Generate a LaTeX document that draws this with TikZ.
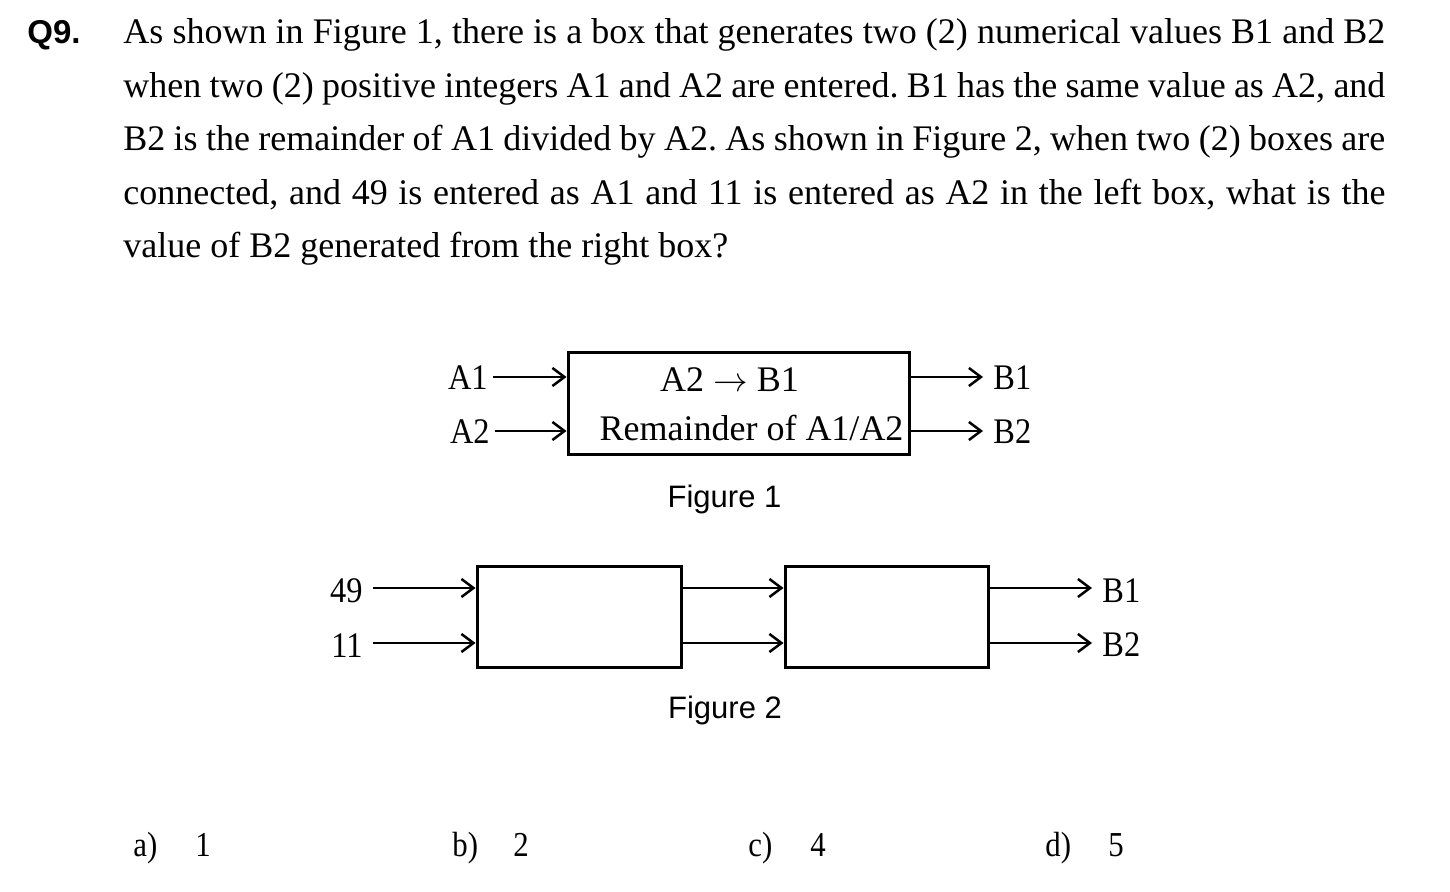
\documentclass[tikz,border=0pt]{standalone}
\usepackage{fontspec}
\setmainfont{Liberation Serif}
\setsansfont{Liberation Sans}
\newfontfamily\condensed[FakeStretch=0.88]{Liberation Serif}
\newfontfamily\labfont[FakeStretch=0.9]{Liberation Serif}
\usetikzlibrary{arrows.meta}
\tikzset{
  body/.style={anchor=base west, inner sep=0pt, font=\fontsize{18}{18}\selectfont},
  lab/.style={inner ysep=0pt, font=\labfont\fontsize{18}{18}\selectfont},
  boxtext/.style={anchor=base, inner sep=0pt, font=\fontsize{18}{18}\selectfont},
  figcap/.style={anchor=base, inner sep=0pt, font=\sffamily\fontsize{15.5}{15.5}\selectfont},
  opt/.style={anchor=base west, inner sep=0pt, font=\condensed\fontsize{17.5}{17.5}\selectfont},
  blk/.style={draw, line width=1.5pt, inner sep=0pt},
  arr/.style={line width=1.25pt, -{Straight Barb[length=6pt,width=9pt,line width=1.25pt]}},
}
\frenchspacing
\begin{document}
\begin{tikzpicture}[x=0.5pt,y=-0.5pt]
\useasboundingbox (0,0) rectangle (1450,892);
% question text
\node[body, font=\sffamily\bfseries\fontsize{16.5}{16.5}\selectfont] (q) at (27,44) {Q9.};
\node[body] (l1) at (123,44) {\makebox[631pt][s]{As shown in Figure 1, there is a box that generates two (2) numerical values B1 and B2}};
\node[body] (l2) at (123,97.5) {\makebox[631pt][s]{when two (2) positive integers A1 and A2 are entered. B1 has the same value as A2, and}};
\node[body] (l3) at (123,151) {\makebox[631pt][s]{B2 is the remainder of A1 divided by A2. As shown in Figure 2, when two (2) boxes are}};
\node[body] (l4) at (123,204.5) {\makebox[631pt][s]{connected, and 49 is entered as A1 and 11 is entered as A2 in the left box, what is the}};
\node[body] (l5) at (123,258) {value of B2 generated from the right box?};

% Figure 1
\node[blk, minimum width=170.5pt, minimum height=51pt] (f1) at (738.5,404) {};
\node[boxtext] (t1) at (729.5,392) {A2 $\rightarrow$ B1};
\node[boxtext] (t2) at (751.5,441) {Remainder of A1/A2};
\coordinate (r1) at (0,377);
\coordinate (r2) at (0,431);
\node[lab, anchor=base east, inner xsep=2.5pt] (a1) at (493,390) {A1};
\node[lab, anchor=base east, inner xsep=2.5pt] (a2) at (495,444) {A2};
\node[lab, anchor=base west, inner xsep=5pt] (b1) at (983,390) {B1};
\node[lab, anchor=base west, inner xsep=5pt] (b2) at (983,444) {B2};
\draw[arr] (a1.east |- r1) -- (f1.west |- r1);
\draw[arr] (a2.east |- r2) -- (f1.west |- r2);
\draw[arr] (f1.east |- r1) -- (b1.west |- r1);
\draw[arr] (f1.east |- r2) -- (b2.west |- r2);
\node[figcap] (c1) at (724.5,508) {Figure 1};

% Figure 2
\node[blk, minimum width=102pt, minimum height=50.5pt] (g1) at (579,616.5) {};
\node[blk, minimum width=101.5pt, minimum height=50.5pt] (g2) at (886.5,616.5) {};
\coordinate (r3) at (0,588);
\coordinate (r4) at (0,643);
\node[lab, anchor=base east, inner xsep=5pt] (n49) at (373,603) {49};
\node[lab, anchor=base east, inner xsep=5pt] (n11) at (373,657) {11};
\node[lab, anchor=base west, inner xsep=5pt] (c2b1) at (1092,602) {B1};
\node[lab, anchor=base west, inner xsep=5pt] (c2b2) at (1092,656) {B2};
\draw[arr] (n49.east |- r3) -- (g1.west |- r3);
\draw[arr] (n11.east |- r4) -- (g1.west |- r4);
\draw[arr] (g1.east |- r3) -- (g2.west |- r3);
\draw[arr] (g1.east |- r4) -- (g2.west |- r4);
\draw[arr] (g2.east |- r3) -- (c2b1.west |- r3);
\draw[arr] (g2.east |- r4) -- (c2b2.west |- r4);
\node[figcap] (c2) at (725,718) {Figure 2};

% options
\node[opt] (oa) at (133,856) {a)};
\node[opt] (oa1) at (195,856) {1};
\node[opt] (ob) at (452,856) {b)};
\node[opt] (ob1) at (513,856) {2};
\node[opt] (oc) at (748,856) {c)};
\node[opt] (oc1) at (810,856) {4};
\node[opt] (od) at (1045,856) {d)};
\node[opt] (od1) at (1108,856) {5};
\end{tikzpicture}
\end{document}
